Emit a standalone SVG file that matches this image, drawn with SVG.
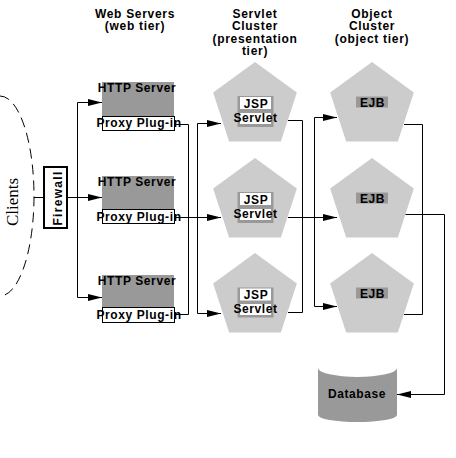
<svg xmlns="http://www.w3.org/2000/svg" xmlns:xlink="http://www.w3.org/1999/xlink" width="456" height="458" viewBox="0 0 456 458">
<style>
  .t { font-family: "Liberation Sans", Arial, sans-serif; font-weight: bold; font-size: 12px; letter-spacing: 0.6px; fill: #000; text-anchor: middle; }
  .title { letter-spacing: 0.7px; }
  .serif { font-family: "Liberation Serif", "Times New Roman", serif; font-size: 17px; fill: #000; text-anchor: middle; }
  .gray { fill: #999999; }
  .pent { fill: #cccccc; }
  .wbox { fill: #ffffff; stroke: #000; stroke-width: 1; }
  .wfill { fill: #ffffff; }
  .ln { fill: none; stroke: #000; stroke-width: 1; }
  .arr { fill: none; stroke: #000; stroke-width: 1; marker-end: url(#ah); }
</style>
<defs>
  <marker id="ah" markerUnits="userSpaceOnUse" markerWidth="14" markerHeight="8" refX="14" refY="4" orient="auto">
    <path d="M0,0.5 L14,4 L0,7.5 Z" fill="#000"/>
  </marker>
  <polygon id="pentagon" points="0,-44 41.85,-13.6 25.86,35.6 -25.86,35.6 -41.85,-13.6"/>
</defs>
<rect width="456" height="458" fill="#ffffff"/>

<g id="titles">
  <text class="t title" x="135" y="17.5">Web Servers</text>
  <text class="t title" x="135" y="30">(web tier)</text>
  <text class="t title" x="255" y="17.5">Servlet</text>
  <text class="t title" x="255" y="30">Cluster</text>
  <text class="t title" x="255" y="42.5">(presentation</text>
  <text class="t title" x="255" y="55">tier)</text>
  <text class="t title" x="372" y="17.5">Object</text>
  <text class="t title" x="372" y="30">Cluster</text>
  <text class="t title" x="372" y="42.5">(object tier)</text>
</g>

<g id="clients">
  <path class="ln" d="M0,96 A34,100 0 0 1 0,296" stroke-dasharray="10 6"/>
  <text class="serif" transform="translate(18,202) rotate(-90)">Clients</text>
</g>

<g id="firewall">
  <rect x="44" y="167" width="23" height="61" fill="#ffffff" stroke="#000" stroke-width="2"/>
  <text class="t" style="letter-spacing:1.3px" transform="translate(62,198) rotate(-90)">Firewall</text>
</g>

<g id="http1">
  <rect class="gray" x="102" y="82" width="72" height="34"/>
  <rect class="wbox" x="102.5" y="116.5" width="72" height="14"/>
  <text class="t" x="137" y="91.5">HTTP Server</text>
  <text class="t" x="139" y="127">Proxy Plug-in</text>
</g>
<g id="http2">
  <rect class="gray" x="102" y="176" width="72" height="34"/>
  <rect class="wbox" x="102.5" y="209.5" width="72" height="14"/>
  <text class="t" x="137" y="185.5">HTTP Server</text>
  <text class="t" x="139" y="220.5">Proxy Plug-in</text>
</g>
<g id="http3">
  <rect class="gray" x="102" y="275" width="72" height="33"/>
  <rect class="wbox" x="102.5" y="307.5" width="72" height="15"/>
  <text class="t" x="137" y="284.5">HTTP Server</text>
  <text class="t" x="139" y="319">Proxy Plug-in</text>
</g>

<g id="servlet1">
  <use href="#pentagon" xlink:href="#pentagon" class="pent" x="255" y="106"/>
  <rect class="gray" x="237.5" y="96" width="36" height="31"/>
  <rect class="wfill" x="240" y="97" width="31" height="12"/>
  <rect class="wfill" x="240" y="113" width="31" height="11"/>
  <text class="t" x="256" y="107.5">JSP</text>
  <text class="t" x="255.5" y="122">Servlet</text>
</g>
<g id="servlet2">
  <use href="#pentagon" xlink:href="#pentagon" class="pent" x="255" y="202"/>
  <rect class="gray" x="237.5" y="192" width="36" height="31"/>
  <rect class="wfill" x="240" y="193" width="31" height="12"/>
  <rect class="wfill" x="240" y="209" width="31" height="11"/>
  <text class="t" x="256" y="203.5">JSP</text>
  <text class="t" x="255.5" y="218">Servlet</text>
</g>
<g id="servlet3">
  <use href="#pentagon" xlink:href="#pentagon" class="pent" x="255" y="297"/>
  <rect class="gray" x="237.5" y="287.5" width="36" height="30"/>
  <rect class="wfill" x="240" y="288.5" width="31" height="12"/>
  <rect class="wfill" x="240" y="304" width="31" height="11"/>
  <text class="t" x="256" y="299">JSP</text>
  <text class="t" x="255.5" y="313">Servlet</text>
</g>

<g id="ejb1">
  <use href="#pentagon" xlink:href="#pentagon" class="pent" x="372" y="106"/>
  <rect class="gray" x="356" y="96.5" width="32" height="11"/>
  <text class="t" x="372.5" y="106.5">EJB</text>
</g>
<g id="ejb2">
  <use href="#pentagon" xlink:href="#pentagon" class="pent" x="372" y="202"/>
  <rect class="gray" x="356" y="192.5" width="32" height="11"/>
  <text class="t" x="372.5" y="202.5">EJB</text>
</g>
<g id="ejb3">
  <use href="#pentagon" xlink:href="#pentagon" class="pent" x="372" y="297"/>
  <rect class="gray" x="356" y="287.5" width="32" height="11"/>
  <text class="t" x="372.5" y="297.5">EJB</text>
</g>

<g id="database">
  <path class="gray" d="M318,368 V415 A39.5,7 0 0 0 397,415 V368 A39.5,9 0 0 1 318,368 Z"/>
  <text class="t" x="357" y="398">Database</text>
</g>

<g id="connectors">
  <line class="ln" x1="34" y1="197.5" x2="44" y2="197.5"/>
  <line class="ln" x1="67" y1="197.5" x2="77.5" y2="197.5"/>
  <line class="ln" x1="77.5" y1="102.5" x2="77.5" y2="297.5"/>
  <path class="arr" d="M77.5,102.5 H102"/>
  <path class="arr" d="M77.5,197.5 H102"/>
  <path class="arr" d="M77.5,297.5 H102"/>

  <path class="ln" d="M175,124.5 H188.5 V314.5 H175"/>
  <path class="arr" d="M175,217.5 H221"/>
  <line class="ln" x1="197.5" y1="123.5" x2="197.5" y2="313.5"/>
  <path class="arr" d="M197.5,123.5 H221"/>
  <path class="arr" d="M197.5,313.5 H221"/>

  <path class="ln" d="M288,120.5 H302.5 V312.5 H288"/>
  <path class="arr" d="M288,217.5 H337"/>
  <line class="ln" x1="314.5" y1="117.5" x2="314.5" y2="306.5"/>
  <path class="arr" d="M314.5,117.5 H337"/>
  <path class="arr" d="M314.5,306.5 H337"/>

  <path class="ln" d="M404,124.5 H422.5 V314.5 H404"/>
  <path class="arr" d="M405.5,214.5 H444.5 V394.5 H397"/>
</g>
</svg>
